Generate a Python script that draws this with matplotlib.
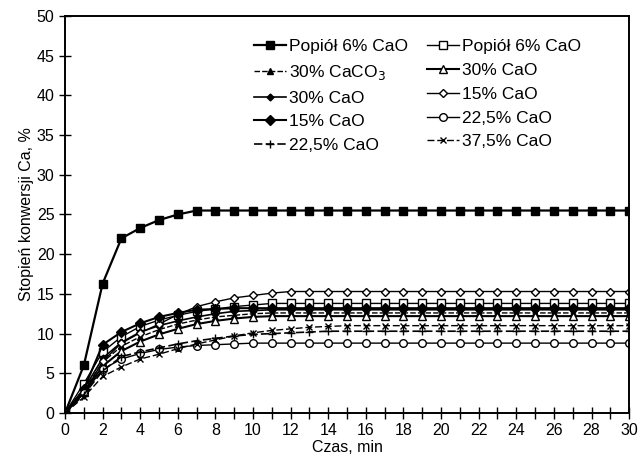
import matplotlib
matplotlib.use("Agg")
import matplotlib.pyplot as plt
import numpy as np
from matplotlib.ticker import MultipleLocator

plt.rcParams['font.family'] = ['Liberation Sans', 'DejaVu Sans']

t = list(range(31))

popiol_filled = [0, 6.0, 16.3, 22.0, 23.3, 24.3, 25.0, 25.5] + [25.5] * 23
popiol_open = [0, 3.7, 7.7, 9.6, 10.9, 11.7, 12.3, 12.8, 13.1, 13.4, 13.6] + [13.8] * 20
caco3_30 = [0, 2.8, 6.4, 8.4, 9.6, 10.5, 11.2, 11.7, 12.1, 12.3, 12.5] + [12.6] * 20
cao_30_tri = [0, 2.6, 5.9, 7.8, 9.0, 9.9, 10.6, 11.2, 11.6, 11.9, 12.1] + [12.2] * 20
cao_30_dia = [0, 3.0, 6.9, 8.9, 10.2, 11.0, 11.6, 12.1, 12.5, 12.8, 12.9] + [13.0] * 20
cao_15_open = [0, 2.5, 6.5, 8.8, 10.1, 11.2, 12.4, 13.4, 14.0, 14.5, 14.8, 15.1] + [15.3] * 19
cao_15_filled = [0, 3.0, 8.6, 10.2, 11.3, 12.1, 12.6, 13.0, 13.1] + [13.2] * 22
cao_225_circle = [0, 2.5, 5.5, 6.8, 7.5, 8.0, 8.3, 8.5, 8.6, 8.7] + [8.8] * 21
cao_225_plus = [0, 2.3, 5.3, 7.1, 7.7, 8.2, 8.7, 9.1, 9.4, 9.7, 9.9, 10.0, 10.1, 10.2] + [10.3] * 17
cao_375_x = [0, 2.0, 4.6, 5.8, 6.8, 7.4, 8.1, 8.7, 9.2, 9.7, 10.1, 10.4, 10.6, 10.8, 10.9] + [11.0] * 16

series = [
    (popiol_filled, 'Popiół 6% CaO', dict(marker='s', mfc='black', ms=6, lw=1.6, ls='-')),
    (popiol_open, 'Popiół 6% CaO', dict(marker='s', mfc='white', ms=5.5, lw=1.0, ls='-')),
    (caco3_30, '30% CaCO$_3$', dict(marker='^', mfc='black', ms=4.5, lw=1.0, ls=(0, (4, 1.5)))),
    (cao_30_tri, '30% CaO', dict(marker='^', mfc='white', ms=5.5, lw=1.5, ls='-')),
    (cao_30_dia, '30% CaO', dict(marker='D', mfc='black', ms=3.5, lw=1.2, ls='-')),
    (cao_15_open, '15% CaO', dict(marker='D', mfc='white', ms=4.5, lw=1.0, ls='-')),
    (cao_15_filled, '15% CaO', dict(marker='D', mfc='black', ms=5.5, lw=1.5, ls='-')),
    (cao_225_circle, '22,5% CaO', dict(marker='o', mfc='white', ms=5.5, lw=1.0, ls='-')),
    (cao_225_plus, '22,5% CaO', dict(marker='+', mfc='black', ms=6, lw=1.2, ls=(0, (5, 2)))),
    (cao_375_x, '37,5% CaO', dict(marker='x', mfc='black', ms=5, lw=1.0, ls=(0, (5, 2)))),
]

fig = plt.figure(figsize=(6.4, 4.57), dpi=100)
ax = fig.add_axes([0.1016, 0.0963, 0.8814, 0.8687])

handles = []
for vals, label, style in series:
    h, = ax.plot(t, vals, color='black', mec='black', mew=1.0, label=label, **style)
    handles.append(h)

ax.set_xlim(0, 30)
ax.set_ylim(0, 50)
ax.xaxis.set_major_locator(MultipleLocator(2))
ax.xaxis.set_minor_locator(MultipleLocator(1))
ax.yaxis.set_major_locator(MultipleLocator(5))
ax.tick_params(axis='both', which='both', direction='inout', length=8, width=1.0,
               labelsize=11.5, top=False, right=False)
for sp in ax.spines.values():
    sp.set_linewidth(1.4)

ax.set_xlabel('Czas, min', fontsize=11.5, labelpad=1)
ax.set_ylabel('Stopień konwersji Ca, %', fontsize=11.5, labelpad=2)

# legend rows read left to right, matplotlib fills by column
order = [0, 2, 4, 6, 8, 1, 3, 5, 7, 9]
fig.legend([handles[i] for i in order], [handles[i].get_label() for i in order],
           ncol=2, loc='upper left', bbox_to_anchor=(254 / 640, 1 - 39 / 457),
           frameon=False, fontsize=12.5, handlelength=1.85, handletextpad=0.15,
           columnspacing=1.1, labelspacing=0.5, borderpad=0, borderaxespad=0)

fig.savefig('out.png', dpi=100)
